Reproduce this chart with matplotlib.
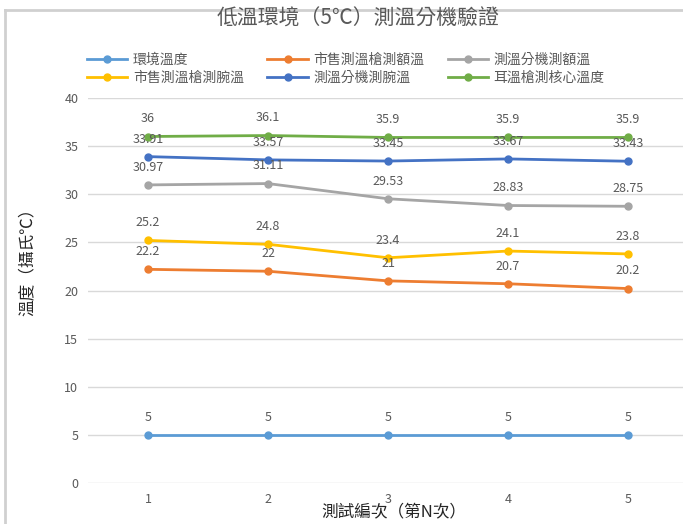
import matplotlib.pyplot as plt
from matplotlib.lines import Line2D

plt.rcParams['font.family'] = ['Noto Sans CJK TC', 'DejaVu Sans']

# test rounds and readings (°C)
rounds = [1, 2, 3, 4, 5]
ambient = [5, 5, 5, 5, 5]
gun_forehead = [22.2, 22, 21, 20.7, 20.2]
unit_forehead = [30.97, 31.11, 29.53, 28.83, 28.75]
gun_wrist = [25.2, 24.8, 23.4, 24.1, 23.8]
unit_wrist = [33.91, 33.57, 33.45, 33.67, 33.43]
ear_core = [36, 36.1, 35.9, 35.9, 35.9]

names = ['環境溫度', '市售測溫槍測額溫', '測溫分機測額溫',
         '市售測溫槍測腕溫', '測溫分機測腕溫', '耳溫槍測核心溫度']
colors = ['#5B9BD5', '#ED7D31', '#A5A5A5', '#FFC000', '#4472C4', '#70AD47']
series = [ambient, gun_forehead, unit_forehead, gun_wrist, unit_wrist, ear_core]

fig = plt.figure(figsize=(6.83, 5.24), dpi=100)
ax = fig.add_axes([88/683, 41/524, 600/683, 385/524])

handles = []
for vals, c, n in zip(series, colors, names):
    h, = ax.plot(rounds, vals, color=c, lw=2, marker='o', ms=5, label=n)
    handles.append(h)
    for x, v in zip(rounds, vals):
        ax.annotate(f'{v:g}', (x, v), xytext=(0, 8), textcoords='offset points',
                    ha='center', va='bottom', fontsize=9, color='#595959')

ax.set_xlim(0.5, 5.5)
ax.set_ylim(0, 40)
ax.set_yticks(range(0, 41, 5))
ax.set_xticks(rounds)
ax.grid(axis='y', color='#D9D9D9', lw=1)
ax.set_axisbelow(True)
for s in ax.spines.values():
    s.set_visible(False)
ax.tick_params(length=0, labelsize=9, labelcolor='#595959', pad=7)
ax.set_xlabel('測試編次（第N次）', fontsize=12, color='#262626', va='center')
ax.xaxis.set_label_coords(0.51, -0.078)
ax.set_ylabel('溫度（攝氏℃）', fontsize=12, color='#262626')
ax.yaxis.set_label_coords(-0.088, 0.584)

# legend filled row by row
order = [0, 3, 1, 4, 2, 5]
fig.legend([handles[i] for i in order], [names[i] for i in order], ncol=3,
           loc='upper left', bbox_to_anchor=(80/683, 1 - 46/524), frameon=False,
           fontsize=10, handlelength=2.9, handletextpad=0.4, columnspacing=1.7,
           labelspacing=0.3, labelcolor='#595959', borderpad=0)

fig.text(358/683, 1 - 19/524, '低溫環境（5℃）測溫分機驗證', ha='center', va='center',
         fontsize=15, color='#595959')

# outer frame lines
fig.add_artist(Line2D([5/683, 1], [1 - 10/524] * 2, color='#D0D0D0', lw=2))
fig.add_artist(Line2D([5/683] * 2, [0, 1 - 10/524], color='#D0D0D0', lw=2))

fig.savefig('out.png', dpi=100)
